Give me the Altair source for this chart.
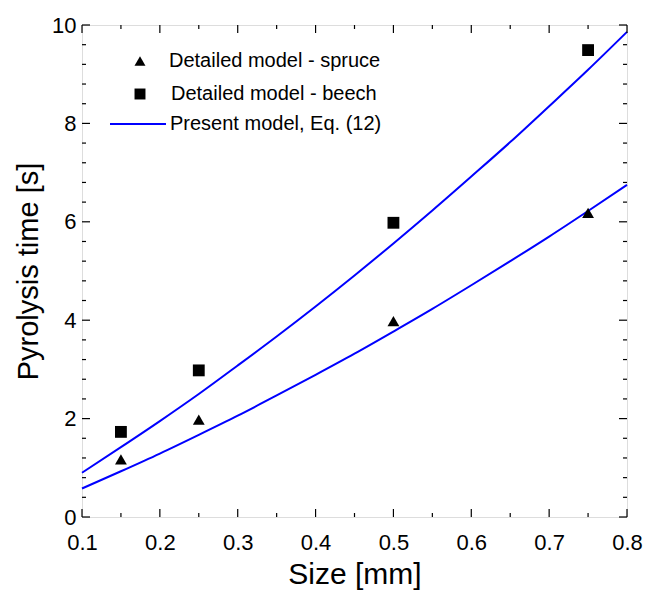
import altair as alt
import pandas as pd

# ---- data ----
sizes_pts = [0.15, 0.25, 0.5, 0.75]
spruce_pts = [1.17, 1.98, 3.98, 6.18]
beech_pts = [1.73, 2.98, 5.98, 9.49]

curve_x = [0.1, 0.15, 0.2, 0.25, 0.3, 0.35, 0.4, 0.45, 0.5, 0.55, 0.6, 0.65, 0.7, 0.75, 0.8]
beech_curve = [0.90, 1.42, 1.95, 2.50, 3.08, 3.67, 4.28, 4.91, 5.56, 6.23, 6.92, 7.62, 8.35, 9.09, 9.86]
spruce_curve = [0.58, 0.93, 1.29, 1.67, 2.06, 2.47, 2.89, 3.32, 3.77, 4.23, 4.71, 5.20, 5.70, 6.22, 6.75]

x_major = [0.1, 0.2, 0.3, 0.4, 0.5, 0.6, 0.7, 0.8]
x_minor = [0.15, 0.25, 0.35, 0.45, 0.55, 0.65, 0.75]
y_major = [0, 2, 4, 6, 8, 10]
y_minor = [0.4, 0.8, 1.2, 1.6, 2.4, 2.8, 3.2, 3.6, 4.4, 4.8, 5.2, 5.6,
           6.4, 6.8, 7.2, 7.6, 8.4, 8.8, 9.2, 9.6]

legend_labels = ["Detailed model - spruce", "Detailed model - beech", "Present model, Eq. (12)"]

W, H = 545, 492
FONT = "Liberation Sans"

xs = alt.Scale(domain=[0.1, 0.8], nice=False, zero=False)
ys = alt.Scale(domain=[0, 10], nice=False, zero=False)

pts = pd.DataFrame({
    "x": sizes_pts * 2,
    "y": spruce_pts + beech_pts,
    "wood": ["spruce"] * 4 + ["beech"] * 4,
})
curves = pd.DataFrame({
    "x": curve_x * 2,
    "y": beech_curve + spruce_curve,
    "wood": ["beech"] * len(curve_x) + ["spruce"] * len(curve_x),
})

x_enc = alt.X("x:Q", scale=xs, axis=alt.Axis(
    title="Size [mm]", values=x_major, format=".1f", ticks=False, domain=False, grid=False,
    labelFontSize=22, labelColor="black", labelFont=FONT, labelPadding=15,
    titleFontSize=30, titleFont=FONT, titleFontWeight="normal", titleColor="black", titlePadding=6,
    labelFlush=False))
y_enc = alt.Y("y:Q", scale=ys, axis=alt.Axis(
    title="Pyrolysis time [s]", values=y_major, ticks=False, domain=False, grid=False,
    labelFontSize=22, labelColor="black", labelFont=FONT, labelPadding=6,
    titleFontSize=29, titleFont=FONT, titleFontWeight="normal", titleColor="black", titlePadding=8,
    labelFlush=False))

lines = alt.Chart(curves).mark_line(color="#0000ff", strokeWidth=2, interpolate="monotone").encode(
    x=x_enc, y=y_enc, detail="wood:N")

points = alt.Chart(pts).mark_point(filled=True, color="black", opacity=1, size=140).encode(
    x=alt.X("x:Q", scale=xs),
    y=alt.Y("y:Q", scale=ys),
    shape=alt.Shape("wood:N", scale=alt.Scale(domain=["spruce", "beech"],
                                               range=["triangle-up", "square"]), legend=None),
)

def xticks(vals, length, top):
    df = pd.DataFrame({"x": vals})
    if top:
        return alt.Chart(df).mark_rule(color="black", strokeWidth=1.2).encode(
            x=alt.X("x:Q", scale=xs), y=alt.value(0), y2=alt.value(length))
    return alt.Chart(df).mark_rule(color="black", strokeWidth=1.2).encode(
        x=alt.X("x:Q", scale=xs), y=alt.value(H), y2=alt.value(H - length))

def yticks(vals, length, right):
    df = pd.DataFrame({"y": vals})
    if right:
        return alt.Chart(df).mark_rule(color="black", strokeWidth=1.2).encode(
            y=alt.Y("y:Q", scale=ys), x=alt.value(W), x2=alt.value(W - length))
    return alt.Chart(df).mark_rule(color="black", strokeWidth=1.2).encode(
        y=alt.Y("y:Q", scale=ys), x=alt.value(0), x2=alt.value(length))

ticks = [xticks(x_major, 8, False), xticks(x_minor, 4, False),
         xticks(x_major, 8, True), xticks(x_minor, 4, True),
         yticks(y_major, 8, False), yticks(y_minor, 4, False),
         yticks(y_major, 8, True), yticks(y_minor, 4, True)]

# legend (drawn inside the plot, top-left)
def leg_text(label, x, y):
    return alt.Chart(pd.DataFrame({"label": [label]})).mark_text(
        align="left", baseline="middle", fontSize=20, font=FONT, color="black").encode(
        text="label:N", x=alt.value(x), y=alt.value(y))

leg_texts = [
    leg_text(legend_labels[0], 87, 36),
    leg_text(legend_labels[1], 89, 69),
    leg_text(legend_labels[2], 88, 99),
]
leg_sym = [
    alt.Chart(pd.DataFrame({"s": ["triangle-up"]})).mark_point(
        filled=True, color="black", opacity=1, size=120, shape="triangle-up").encode(
        x=alt.value(58), y=alt.value(36)),
    alt.Chart(pd.DataFrame({"s": ["square"]})).mark_point(
        filled=True, color="black", opacity=1, size=120, shape="square").encode(
        x=alt.value(58), y=alt.value(69)),
    alt.Chart(pd.DataFrame({"s": ["line"]})).mark_rule(color="#0000ff", strokeWidth=2).encode(
        x=alt.value(28), x2=alt.value(84), y=alt.value(99)),
]

chart = alt.layer(lines, points, *ticks, *leg_texts, *leg_sym).properties(
    width=W, height=H,
    autosize=alt.AutoSizeParams(type="none"),
    padding={"left": 82, "top": 25, "right": 19, "bottom": 79},
).configure_view(stroke="black", strokeWidth=2.5).configure(background="white")

chart.save("out.html", embed_options={"renderer": "svg", "actions": False})
